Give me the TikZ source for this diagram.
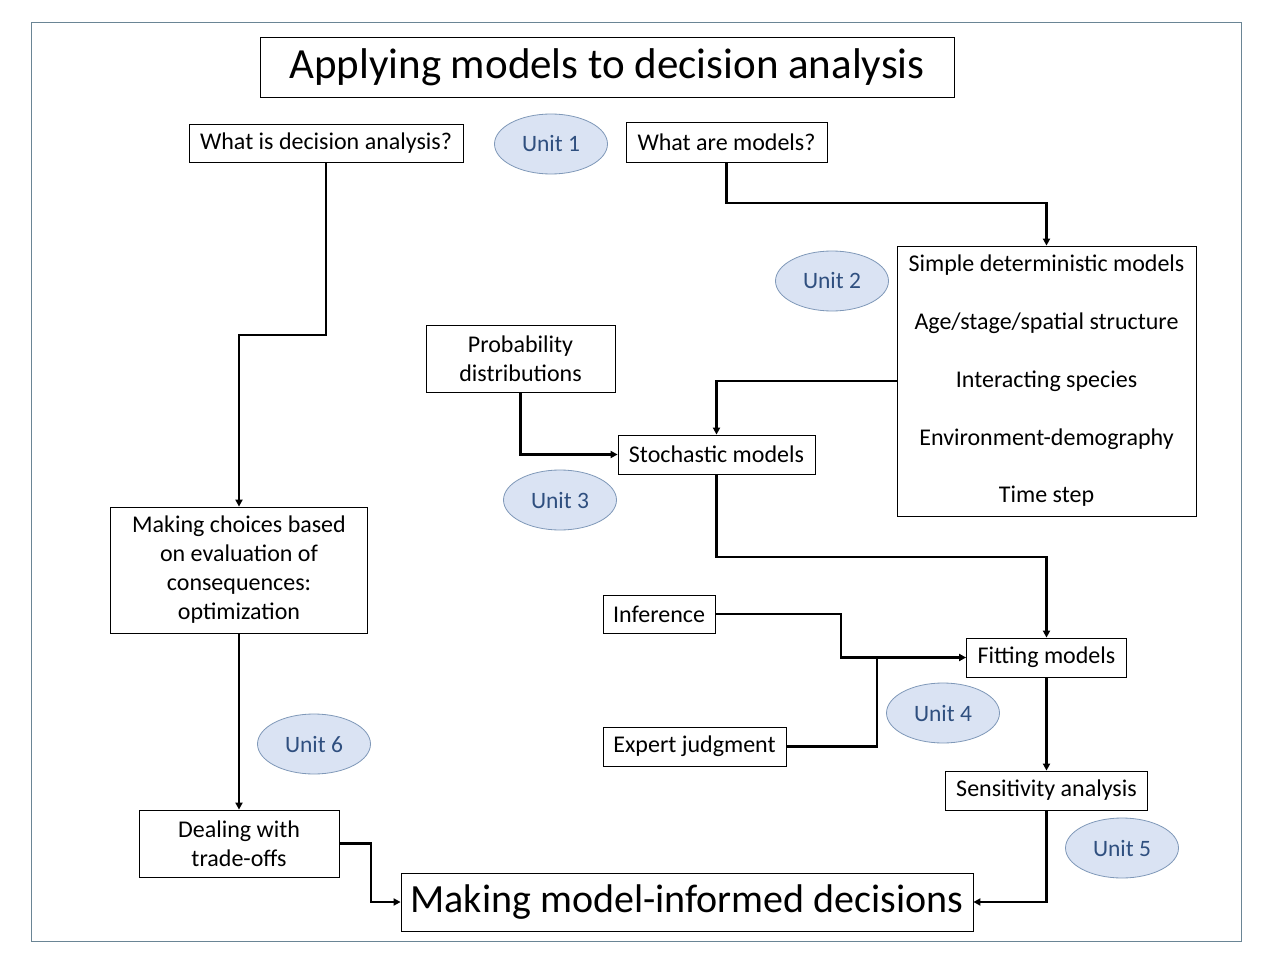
\documentclass[tikz,border=0pt]{standalone}
\usepackage{fontspec}
\setmainfont{Carlito}
\usetikzlibrary{arrows.meta,shapes.geometric}
\definecolor{framec}{HTML}{6A8595}
\definecolor{ellfill}{HTML}{DAE3F3}
\definecolor{elldraw}{HTML}{7F98B8}
\definecolor{unittext}{HTML}{2F4F7F}
\tikzset{
  box/.style={draw=black, line width=0.8pt, inner sep=0pt, align=center, fill=white,
    font=\fontsize{24}{29}\selectfont},
  unit/.style={ellipse, draw=elldraw, fill=ellfill, line width=0.8pt, minimum width=113pt,
    minimum height=60pt, inner sep=0pt, text=unittext, font=\fontsize{23.5}{28}\selectfont},
  conn/.style={line width=2.3pt, draw=black},
  arr/.style={conn, -{Triangle[length=7pt,width=7pt]}}
}
\begin{document}
\begin{tikzpicture}[x=1pt,y=-1pt]
\useasboundingbox (0,0) rectangle (1280,960);
\fill[white] (0,0) rectangle (1280,960);
\draw[framec, line width=1pt] (31,23) rectangle (1241,941);

\node[box, minimum width=694pt, minimum height=60pt, font=\fontsize{43}{50}\selectfont] (title) at (607,67) {Applying models to decision analysis};
\node[box, minimum width=274pt, minimum height=38pt] (wda) at (326,143) {What is decision analysis?};
\node[box, minimum width=201pt, minimum height=40pt] (wam) at (726.5,142) {What are models?};
\node[box, minimum width=299pt, minimum height=270pt, font=\fontsize{24}{57.75}\selectfont] (sdm) at (1046.5,381) {Simple deterministic models\\Age/stage/spatial structure\\Interacting species\\Environment-demography\\Time step};
\node[box, minimum width=189pt, minimum height=67pt] (prob) at (520.5,358.5) {Probability\\distributions};
\node[box, minimum width=197pt, minimum height=39pt] (stoch) at (716.5,454.5) {Stochastic models};
\node[box, minimum width=112pt, minimum height=38pt] (infer) at (659,614) {Inference};
\node[box, minimum width=160pt, minimum height=39pt] (fit) at (1046.5,657.5) {Fitting models};
\node[box, minimum width=183pt, minimum height=39pt] (expert) at (694.5,746.5) {Expert judgment};
\node[box, minimum width=202pt, minimum height=39pt] (sens) at (1046.5,790.5) {Sensitivity analysis};
\node[box, minimum width=572pt, minimum height=58pt, font=\fontsize{40}{47}\selectfont] (mmid) at (687,902) {Making model-informed decisions};
\node[box, minimum width=200pt, minimum height=67pt] (deal) at (239,843.5) {Dealing with\\trade-offs};
\node[box, minimum width=257pt, minimum height=126pt] (choices) at (239,570) {Making choices based\\on evaluation of\\consequences:\\optimization};

\node[unit] (u1) at (551,144) {Unit 1};
\node[unit] (u2) at (832,281) {Unit 2};
\node[unit] (u3) at (560,500) {Unit 3};
\node[unit] (u4) at (943,713) {Unit 4};
\node[unit] (u5) at (1122,848) {Unit 5};
\node[unit] (u6) at (314,744) {Unit 6};

\coordinate (b1) at (1046.5,203);
\coordinate (b2) at (1046.5,557);
\coordinate (j1) at (841,657.5);
\coordinate (j2) at (877,657.5);
\coordinate (b3) at (371,843.5);
\coordinate (b4) at (326,335);

\draw[arr] (wam.south) |- (b1) -- (sdm.north);
\draw[arr] (sdm.west) -| (stoch.north);
\draw[arr] (prob.south) |- (stoch.west);
\draw[arr] (stoch.south) |- (b2) -- (fit.north);
\draw[arr] (infer.east) -| (j1) -- (fit.west);
\draw[conn] (expert.east) -| (j2);
\draw[arr] (fit.south) -- (sens.north);
\draw[arr] (sens.south) |- (mmid.east);
\draw[arr] (deal.east) -- (b3) |- (mmid.west);
\draw[arr] (wda.south) -- (b4) -| (choices.north);
\draw[arr] (choices.south) -- (deal.north);
\end{tikzpicture}
\end{document}
